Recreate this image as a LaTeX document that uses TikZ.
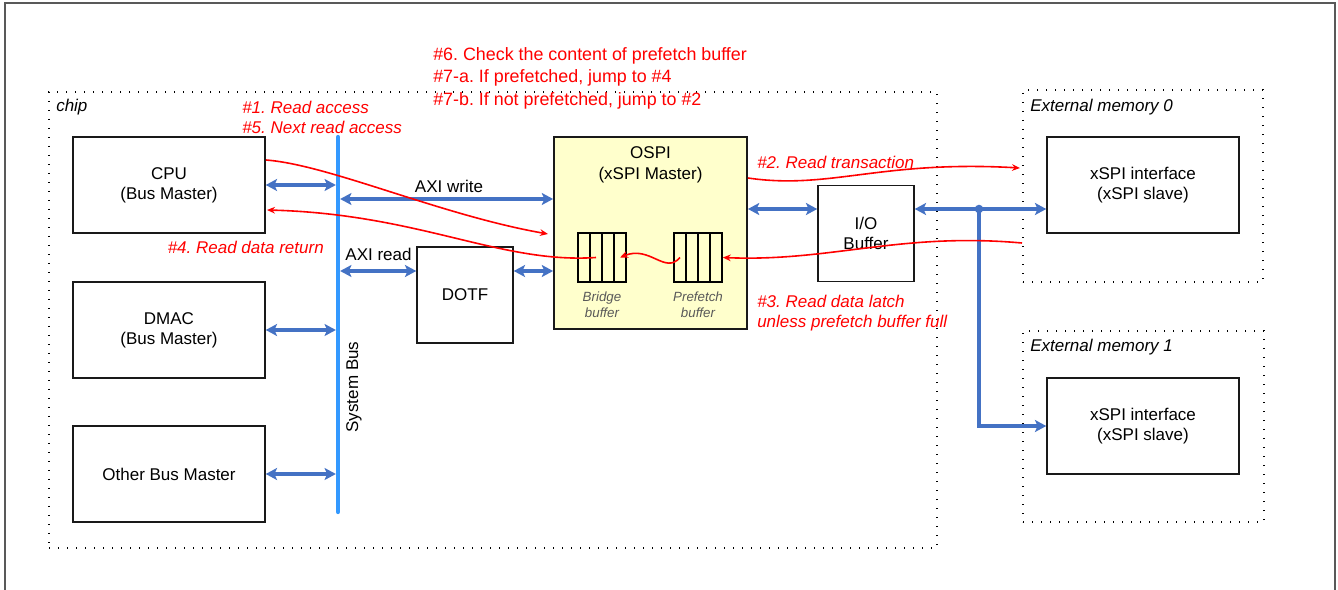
\documentclass[tikz,border=0pt]{standalone}
\usepackage{fontspec}
\setmainfont{Liberation Sans}
\usetikzlibrary{positioning, arrows.meta}
\definecolor{busblue}{HTML}{3399FF}
\definecolor{linkblue}{HTML}{4472C4}
\definecolor{ospiyellow}{HTML}{FFFFCC}
\definecolor{notered}{HTML}{FF0000}
\definecolor{framegray}{HTML}{595959}
\definecolor{captgray}{HTML}{595959}
\frenchspacing

\begin{document}
\begin{tikzpicture}[
    x=0.75pt, y=-0.75pt,
    font=\fontsize{12.75}{15}\selectfont,
    >={Stealth[length=8.5pt, width=9pt, inset=2pt]},
    block/.style={
        rectangle, draw=black!90, line width=1.1pt, fill=#1,
        minimum width=144pt, minimum height=72pt,
        align=center, inner sep=2pt
    },
    block/.default=white,
    sqblock/.style={block, minimum width=72pt},
    memframe/.style={
        rectangle, draw, line width=1.1pt, dash pattern=on 1.1pt off 5.65pt,
        inner sep=0pt
    },
    cell/.style={
        rectangle, draw, line width=1.1pt, minimum width=9pt,
        minimum height=36.75pt, inner sep=0pt
    },
    link/.style={<->, line width=2.4pt, draw=linkblue},
    flow/.style={-{Stealth[length=6pt, width=5pt]}, line width=1.2pt, draw=notered},
    note/.style={font=\fontsize{12.75}{15}\selectfont\itshape, text=notered,
        align=left, inner sep=0pt},
    stepnote/.style={font=\fontsize{13.4}{16.9}\selectfont, text=notered,
        align=left, inner sep=0pt},
    caption/.style={font=\fontsize{10}{12}\selectfont\itshape, text=captgray,
        align=center, inner sep=0pt},
    tag/.style={font=\fontsize{12.75}{15}\selectfont\itshape, inner sep=0pt}
]
\useasboundingbox (0,0) rectangle (1338,589);

% outer frame
\draw[framegray, line width=1.5pt] (5,600) -- (5,3) -- (1335,3) -- (1335,600);

%% ---- chip ----
\node[memframe, minimum width=666pt, minimum height=342pt] (chip) at (493,320) {};
\node[tag, anchor=west] (chiplbl) at (56,107) {chip};

% Bus masters
\node[block] (cpu) at (169,185) {CPU\\(Bus Master)};
\node[block] (dmac) at (169,330) {DMAC\\(Bus Master)};
\node[block] (other) at (169,474) {Other Bus Master};

% System bus
\coordinate (bustop) at (338,137);
\coordinate (busbot) at (338,512);
\draw[busblue, line width=3.2pt, line cap=round] (bustop) -- (busbot);
\node[rotate=90] (buslbl) at (354,387) {System Bus};

\draw[link, shorten >=1.6pt] (cpu.east) -- (cpu.east -| bustop);
\draw[link, shorten >=1.6pt] (dmac.east) -- (dmac.east -| bustop);
\draw[link, shorten >=1.6pt] (other.east) -- (other.east -| bustop);

% DOTF and OSPI
\node[sqblock] (dotf) at (465,295) {DOTF};
\node[block=ospiyellow, minimum width=145pt, minimum height=144pt] (ospi) at (650.5,233) {};
\node[font=\fontsize{12.75}{16}\selectfont, align=center] (ospilbl) at (650.5,165) {OSPI\\(xSPI Master)};

\coordinate (axiw) at (338,199);
\coordinate (axir) at (338,271);
\draw[link, shorten <=1.6pt] (axiw) -- (axiw -| ospi.west);
\node (axiwlbl) at (449,186) {AXI write};
\draw[link, shorten <=1.6pt] (axir) -- (axir -| dotf.west);
\node (axirlbl) at (378.5,254) {AXI read};
\draw[link] (axir -| dotf.east) -- (axir -| ospi.west);

% Bridge / prefetch buffers
\foreach \i in {0,...,3} {
    \node[cell] (b\i) at (584+12*\i,257.5) {};
    \node[cell] (p\i) at (680+12*\i,257.5) {};
}
\node[caption] (bcap) at (602,305) {Bridge\\buffer};
\node[caption] (pcap) at (698,305) {Prefetch\\buffer};

% I/O buffer
\node[sqblock] (io) at (866,233.5) {I/O\\Buffer};
\coordinate (iolink) at (979,209);
\draw[link] (ospi.east |- iolink) -- (io.west |- iolink);

%% ---- External memories ----
\node[memframe, minimum width=180pt, minimum height=144pt] (ext0) at (1143,186) {};
\node[tag, anchor=west] (ext0lbl) at (1030,107) {External memory 0};
\node[block] (xspi0) at (1143,185) {xSPI interface\\(xSPI slave)};

\node[memframe, minimum width=180.75pt, minimum height=143.25pt] (ext1) at (1143.5,426.5) {};
\node[tag, anchor=west] (ext1lbl) at (1030,347) {External memory 1};
\node[block] (xspi1) at (1143,426) {xSPI interface\\(xSPI slave)};

\draw[link] (io.east |- iolink) -- (xspi0.west |- iolink);
\fill[linkblue] (iolink) circle (3.2pt);
\draw[->, line width=2.4pt, linkblue] (iolink) |- (xspi1.west);

%% ---- Read flow ----
\coordinate (rdreq) at (266,160);
\coordinate (rdreqend) at (548,234);
\draw[flow] (rdreq) .. controls (330,165) and (440,215) .. (rdreqend);

\coordinate (rdret) at (267,210);
\draw[flow] (b1.center) .. controls (500,264) and (420,214) .. (rdret);

\coordinate (rdtx) at (1020,168);
\draw[flow] (ospi.east |- 0,178) .. controls (830,190) and (880,160) .. (rdtx);

\coordinate (rdlatch) at (1022,243);
\draw[flow] (rdlatch) .. controls (900,232) and (830,262) .. (p3.east);

\draw[flow] (p0.center) .. controls (665,275) and (650,245) .. (b3.center);

% Step notes
\node[note, anchor=west] (n15) at (242,117) {\#1. Read access\\\#5. Next read access};
\node[note, anchor=east] (n4) at (324,247) {\#4. Read data return};
\node[note, anchor=west] (n2) at (757,162) {\#2. Read transaction};
\node[note, anchor=west] (n3) at (757,313) {\#3. Read data latch\\unless prefetch buffer full};
\node[stepnote, anchor=west] (n67) at (433,78) {\#6. Check the content of prefetch buffer\\\#7-a. If prefetched, jump to \#4\\\#7-b. If not prefetched, jump to \#2};

\end{tikzpicture}
\end{document}
